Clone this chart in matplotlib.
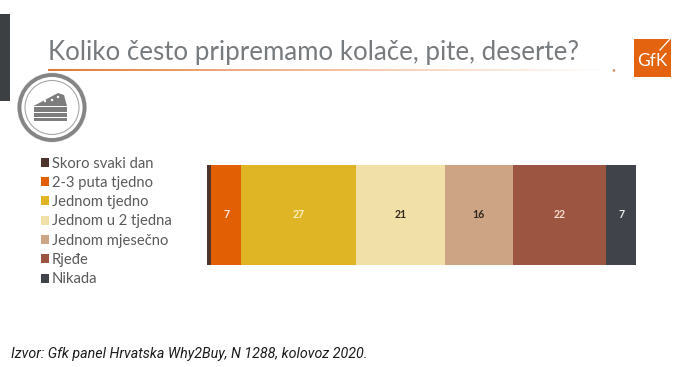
import matplotlib
matplotlib.use('Agg')
import matplotlib.pyplot as plt
from matplotlib.patches import Circle, Polygon, Rectangle
import numpy as np

W, H = 677, 367

categories = ['Skoro svaki dan', '2-3 puta tjedno', 'Jednom tjedno', 'Jednom u 2 tjedna',
              'Jednom mjesečno', 'Rjeđe', 'Nikada']
values = [1, 7, 27, 21, 16, 22, 7]
value_labels = ['', '7', '27', '21', '16', '22', '7']
colors = ['#4d352c', '#e35f04', '#e0b525', '#f1e0a8', '#cda584', '#9c5540', '#40444a']
label_colors = ['white', '#fbeadd', '#f8eec0', '#33291f', '#33291f', '#f6dcd2', '#e8e8ea']

title = 'Koliko često pripremamo kolače, pite, deserte?'
source = 'Izvor: Gfk panel Hrvatska Why2Buy, N 1288, kolovoz 2020.'

fig = plt.figure(figsize=(W / 100, H / 100), dpi=100)

# overlay in pixel coords for the slide decoration
bg = fig.add_axes([0, 0, 1, 1])
bg.set_xlim(0, W)
bg.set_ylim(H, 0)
bg.axis('off')

bg.add_patch(Rectangle((0, 14), 10, 87, color='#3c4043', lw=0))

# title rule fading out to the right
fade = np.linspace(0, 1, 256) ** 0.9
rule = np.ones((1, 256, 3)) * np.array([0.89, 0.47, 0.2])
rule = rule + (1 - rule) * fade[None, :, None]
bg.imshow(rule, extent=(48, 606, 71, 69.5), aspect='auto', zorder=1)
bg.set_xlim(0, W)
bg.set_ylim(H, 0)
bg.add_patch(Circle((614, 70.5), 1.3, color='#d08a60', lw=0))

bg.text(48.5, 52.5, title, fontsize=18.65, family='Lato', color='#777b7e',
        ha='left', va='center')

# logo
bg.add_patch(Rectangle((634, 38.5), 37, 38.5, color='#e3630f', lw=0))
bg.text(652, 60.5, 'GfK', fontsize=12.5, family='Lato', color='white', ha='center', va='center')
bg.plot([660, 670], [50, 39], color='white', lw=0.9)

# cake badge
bg.add_patch(Circle((52, 107.5), 35, color='#e6e6e6', lw=0))
bg.add_patch(Circle((52, 107.5), 32.5, facecolor='white', edgecolor='#858585', lw=2.8))
bg.add_patch(Circle((52, 107.5), 27, facecolor='white', edgecolor='#a8a8a8', lw=0.8))
bg.add_patch(Polygon([(33.5, 106), (58, 93), (64, 95), (67, 106)], color='#7d7d7d', lw=0))
bg.add_patch(Rectangle((33.5, 107), 33.5, 5, color='#7d7d7d', lw=0))
bg.add_patch(Rectangle((33.5, 113), 33.5, 3.5, color='#7d7d7d', lw=0))
bg.add_patch(Rectangle((33.5, 117.5), 33.5, 3.5, color='#7d7d7d', lw=0))
for cx, cy in [(45, 101), (52, 100), (58, 97)]:
    bg.add_patch(Circle((cx, cy), 1.2, color='white', lw=0))

bg.text(11, 354, source, fontsize=10.3, family='Roboto', style='italic', color='#1c1c1c',
        ha='left', va='center')

# stacked bar
ax = fig.add_axes([207 / W, 1 - 265 / H, 429 / W, 100 / H])
left = 0
handles = []
for cat, val, lab, col, lcol in zip(categories, values, value_labels, colors, label_colors):
    b = ax.barh(0, val, left=left, height=1, color=col, label=cat, lw=0)
    handles.append(b)
    if lab:
        ax.text(left + val / 2, 0, lab, ha='center', va='center', fontsize=7.6,
                family='Lato', weight='bold', color=lcol)
    left += val
ax.set_xlim(0, sum(values))
ax.set_ylim(-0.5, 0.5)
ax.axis('off')

leg = fig.legend(handles=handles, loc='upper left', bbox_to_anchor=(40.5 / W, 1 - 156.5 / H),
                 bbox_transform=fig.transFigure, frameon=False, borderpad=0, borderaxespad=0,
                 handlelength=0.55, handleheight=0.55, handletextpad=0.2, labelspacing=0.36,
                 prop={'family': 'Lato', 'size': 10.6})
for t in leg.get_texts():
    t.set_color('#5a5a5a')

fig.savefig('out.png', dpi=100)
